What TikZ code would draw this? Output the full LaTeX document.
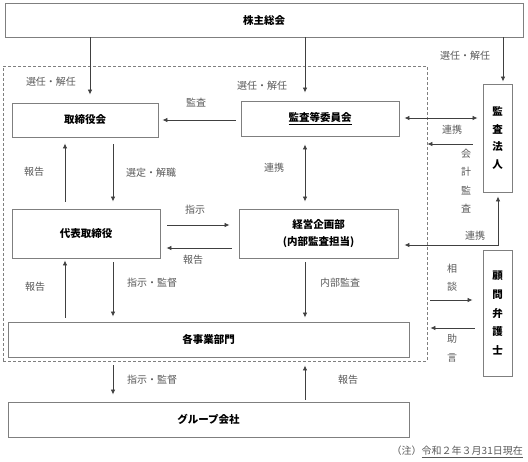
\documentclass[tikz,border=0pt]{standalone}
\usepackage{fontspec}
\setmainfont{Noto Sans CJK JP}
\usetikzlibrary{arrows.meta}
\definecolor{boxc}{HTML}{7F7F7F}
\definecolor{linec}{HTML}{404040}
\definecolor{lblc}{HTML}{595959}
\begin{document}
\begin{tikzpicture}[x=1pt,y=-1pt,
  box/.style={draw=boxc, line width=0.9pt, inner sep=0pt, text=black,
    font=\bfseries\fontsize{10.5}{12}\selectfont},
  vbox/.style={box, align=center, font=\bfseries\fontsize{10.5}{17.7}\selectfont},
  lbl/.style={inner sep=0pt, text=lblc, font=\fontsize{10}{12}\selectfont},
  vlbl/.style={lbl, align=center, font=\fontsize{10}{18.5}\selectfont},
  arr/.style={draw=linec, line width=0.8pt, -{Latex[length=5pt,width=4.5pt]}},
  darr/.style={draw=linec, line width=0.8pt, {Latex[length=5pt,width=4.5pt]}-{Latex[length=5pt,width=4.5pt]}}]
\useasboundingbox (0,0) rectangle (528,461);
% dashed region
\node[draw=boxc, dashed, dash pattern=on 3pt off 2pt, line width=0.8pt, minimum width=424pt, minimum height=295pt, inner sep=0pt] (reg) at (215,213.5) {};
% boxes
\node[box, minimum width=518pt, minimum height=34pt] (kabu) at (264,20) {株主総会};
\node[box, minimum width=146pt, minimum height=34pt] (tori) at (85,120) {取締役会};
\node[box, minimum width=158pt, minimum height=35pt] (kansa) at (320,118.5) {\underline{監査等委員会}};
\node[vbox, minimum width=29pt, minimum height=108pt] (hojin) at (497.5,138) {監\\査\\法\\人};
\node[box, minimum width=148pt, minimum height=49pt] (daihyo) at (86,233.5) {代表取締役};
\node[box, minimum width=159pt, minimum height=49pt, align=center,
  font=\bfseries\fontsize{10.5}{17}\selectfont] (keiei) at (318.5,233.5) {経営企画部\\(内部監査担当)};
\node[box, minimum width=401pt, minimum height=35pt] (jigyo) at (208.5,339.5) {各事業部門};
\node[vbox, minimum width=29pt, minimum height=126pt, font=\bfseries\fontsize{10.5}{18.7}\selectfont] (bengo) at (497.5,313) {顧\\問\\弁\\護\\士};
\node[box, minimum width=401pt, minimum height=35pt] (group) at (208.5,419.5) {グループ会社};
% arrows from 株主総会
\draw[arr, shorten >=8pt] (kabu.south -| 90,0) -- (tori.north -| 90,0);
\draw[arr, shorten >=8pt] (kabu.south -| 305,0) -- (kansa.north -| 305,0);
\draw[arr, shorten >=2pt] (kabu.south -| 503,0) -- (hojin.north -| 503,0);
\node[lbl] (l1) at (51,82) {選任・解任};
\node[lbl] (l2) at (262,86) {選任・解任};
\node[lbl] (l3) at (465,56) {選任・解任};
% 監査
\draw[arr, shorten <=5pt, shorten >=4pt] (kansa.west |- 0,120) -- (tori.east |- 0,120);
\node[lbl] (l4) at (196,103) {監査};
% 連携 kansa - hojin
\draw[darr, shorten <=5pt, shorten >=5pt] (kansa.east |- 0,118) -- (hojin.west |- 0,118);
\node[lbl] (l5) at (452,130) {連携};
% 会計監査
\draw[arr, shorten <=10pt] (hojin.west |- 0,144) -- (reg.east |- 0,144);
\node[vlbl] (l6) at (466,181) {会\\計\\監\\査};
% tori <-> daihyo
\draw[arr, shorten <=7pt, shorten >=6pt] (daihyo.north -| 65,0) -- (tori.south -| 65,0);
\draw[arr, shorten <=7pt, shorten >=7pt] (tori.south -| 113,0) -- (daihyo.north -| 113,0);
\node[lbl] (l7) at (34,172) {報告};
\node[lbl] (l8) at (151,173) {選定・解職};
% kansa <-> keiei
\draw[darr, shorten <=8pt, shorten >=7pt] (kansa.south -| 305,0) -- (keiei.north -| 305,0);
\node[lbl] (l9) at (274,168) {連携};
% daihyo <-> keiei
\draw[arr, shorten <=7pt, shorten >=9pt] (daihyo.east |- 0,225) -- (keiei.west |- 0,225);
\draw[arr, shorten <=7pt, shorten >=6pt] (keiei.west |- 0,248) -- (daihyo.east |- 0,248);
\node[lbl] (l10) at (195,210) {指示};
\node[lbl] (l11) at (193,260) {報告};
% keiei <-> hojin
\draw[darr, shorten <=6pt, shorten >=4pt] (keiei.east |- 0,245) -| (hojin.south -| 498,0);
\node[lbl] (l12) at (475,236) {連携};
% daihyo/keiei <-> jigyo
\draw[arr, shorten <=4pt, shorten >=2pt] (jigyo.north -| 65,0) -- (daihyo.south -| 65,0);
\draw[arr, shorten <=4pt, shorten >=5pt] (daihyo.south -| 113,0) -- (jigyo.north -| 113,0);
\draw[arr, shorten <=4pt, shorten >=4pt] (keiei.south -| 305,0) -- (jigyo.north -| 305,0);
\node[lbl] (l13) at (35,287) {報告};
\node[lbl] (l14) at (152,283) {指示・監督};
\node[lbl] (l15) at (340,283) {内部監査};
% bengo
\draw[arr, shorten <=3pt, shorten >=10pt] (reg.east |- 0,300) -- (bengo.west |- 0,300);
\draw[arr, shorten <=8pt, shorten >=3pt] (bengo.west |- 0,328) -- (reg.east |- 0,328);
\node[vlbl] (l16) at (452,277.5) {相\\談};
\node[vlbl] (l17) at (452,348) {助\\言};
% jigyo <-> group
\draw[arr, shorten <=8pt, shorten >=7pt] (jigyo.south -| 113,0) -- (group.north -| 113,0);
\draw[arr, shorten <=2pt, shorten >=8pt] (group.north -| 305,0) -- (jigyo.south -| 305,0);
\node[lbl] (l18) at (152,380) {指示・監督};
\node[lbl] (l19) at (348,380) {報告};
% note
\node[lbl, anchor=east] (note) at (523,452) {（注）\underline{令和２年３月31日現在}};
\end{tikzpicture}
\end{document}
